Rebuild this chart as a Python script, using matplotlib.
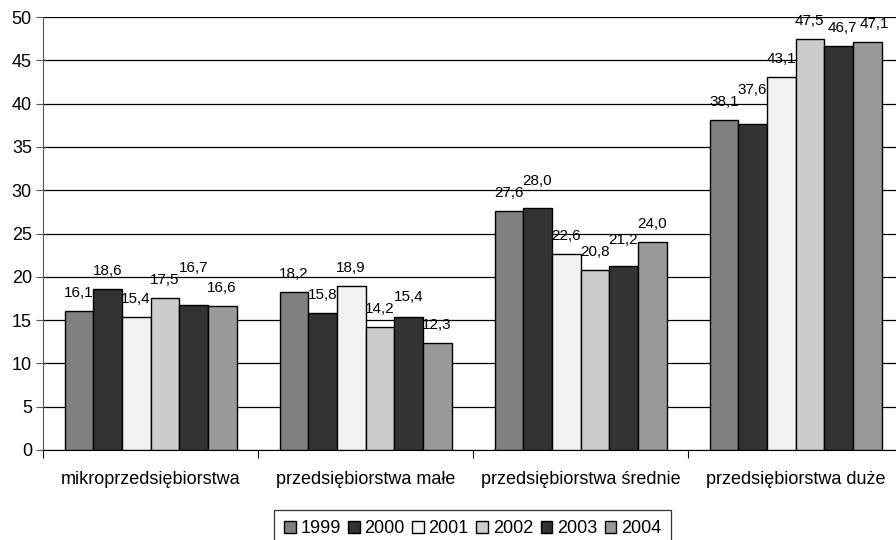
import numpy as np
import matplotlib
matplotlib.use("Agg")
import matplotlib.pyplot as plt

plt.rcParams["font.family"] = ["Liberation Sans", "DejaVu Sans"]

categories = ["mikroprzedsiębiorstwa", "przedsiębiorstwa małe",
              "przedsiębiorstwa średnie", "przedsiębiorstwa duże"]
years = ["1999", "2000", "2001", "2002", "2003", "2004"]
v1999 = [16.1, 18.2, 27.6, 38.1]
v2000 = [18.6, 15.8, 28.0, 37.6]
v2001 = [15.4, 18.9, 22.6, 43.1]
v2002 = [17.5, 14.2, 20.8, 47.5]
v2003 = [16.7, 15.4, 21.2, 46.7]
v2004 = [16.6, 12.3, 24.0, 47.1]
series = [v1999, v2000, v2001, v2002, v2003, v2004]
colors = ["#808080", "#333333", "#f2f2f2", "#cccccc", "#333333", "#999999"]

LABEL_PT = 11
GAP_PX = 14      # bar top -> label baseline
H_PX = 11        # label height used for collision checks

fig = plt.figure(figsize=(8.96, 5.4), dpi=100)
# axes runs a little past the right edge, like the original
ax = fig.add_axes([43 / 896, 90 / 540, 860 / 896, 433 / 540])
ax.set_xlim(-0.5, len(categories) - 0.5)
ax.set_ylim(0, 50)

n = len(years)
gap = 1.5
bw = 1.0 / (n + gap)
x = np.arange(len(categories))
centers = []
for i, (vals, col, yr) in enumerate(zip(series, colors, years)):
    pos = x - 0.5 + bw * gap / 2 + bw * (i + 0.5)
    centers.append(pos)
    ax.bar(pos, vals, width=bw, color=col, edgecolor="black",
           linewidth=1.0, label=yr, zorder=3)

# value labels, nudged up (or sideways near the top) when neighbours collide
renderer = fig.canvas.get_renderer()
top_px = ax.transData.transform((0, 50))[1]
for g in range(len(categories)):
    prev = None
    for i in range(n):
        v = series[i][g]
        xc = centers[i][g]
        bx, by = ax.transData.transform((xc, v))
        txt = f"{v:.1f}".replace(".", ",")
        t = ax.annotate(txt, (xc, v), xytext=(0, GAP_PX), textcoords="offset pixels",
                        ha="center", va="baseline", fontsize=LABEL_PT, zorder=4)
        w = t.get_window_extent(renderer).width
        base = by + GAP_PX
        dx = 0.0
        if prev is not None:
            pcx, pbase, pw = prev
            if abs(base - pbase) < H_PX:
                raised = pbase + H_PX + 1
                if raised + 8 <= top_px + 2:
                    base = raised
                else:
                    dx = max(0.0, pcx + pw / 2 + 3 - (bx - w / 2))
        t.set_position((dx, base - by))
        prev = (bx + dx, base, w)

ax.set_yticks(range(0, 51, 5))
ax.yaxis.grid(True, color="black", linewidth=0.9, zorder=0)
ax.set_axisbelow(True)
for s in ["top", "right"]:
    ax.spines[s].set_visible(False)
ax.spines["left"].set_color("#555555")
ax.spines["bottom"].set_color("black")
ax.tick_params(axis="y", length=5, labelsize=13, direction="out", color="#555555", pad=3)

# category names sit between boundary ticks
ax.set_xticks(np.arange(-0.5, len(categories), 1.0))
ax.set_xticklabels([])
ax.tick_params(axis="x", length=6, direction="out")
ax.set_xticks(x, minor=True)
ax.set_xticklabels(categories, minor=True, fontsize=13)
ax.tick_params(axis="x", which="minor", length=0, pad=15)

leg = fig.legend(loc="upper left", bbox_to_anchor=(274 / 896, 30 / 540), ncol=6,
                 frameon=True, fancybox=False, edgecolor="black", fontsize=13,
                 handlelength=0.65, handleheight=0.65, handletextpad=0.25,
                 columnspacing=0.42, borderpad=0.55, borderaxespad=0)
leg.get_frame().set_linewidth(0.9)

fig.savefig("out.png", dpi=100, facecolor="white")
